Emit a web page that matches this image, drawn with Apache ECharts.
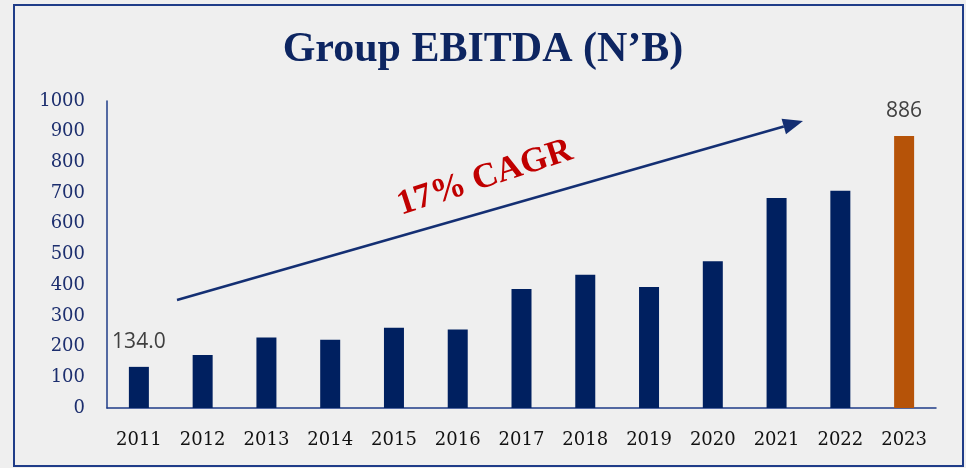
<!DOCTYPE html>
<html>
<head>
<meta charset="utf-8">
<script src="https://cdn.jsdelivr.net/npm/echarts@6/dist/echarts.min.js"></script>
<style>
  html, body { margin: 0; padding: 0; background: #efefef; }
  #chart { width: 966px; height: 468px; }
</style>
</head>
<body>
<div id="chart"></div>
<script>
const years = ['2011', '2012', '2013', '2014', '2015', '2016', '2017', '2018', '2019', '2020', '2021', '2022', '2023'];
const ebitda = [134, 173, 230, 222, 261, 256, 388, 434, 394, 478, 684, 708, 886];
const yTicks = [0, 100, 200, 300, 400, 500, 600, 700, 800, 900, 1000];

const navy = '#002060';
const lastColor = '#B65308';

const chart = echarts.init(document.getElementById('chart'));

// arrow annotation (pixel space)
const arrowFrom = [177, 300];
const arrowTo = [803, 121];
const ang = Math.atan2(arrowTo[1] - arrowFrom[1], arrowTo[0] - arrowFrom[0]);
const headLen = 20, headW = 8;
const back = [arrowTo[0] - headLen * Math.cos(ang), arrowTo[1] - headLen * Math.sin(ang)];
const head = [
  arrowTo,
  [back[0] + headW * Math.sin(ang), back[1] - headW * Math.cos(ang)],
  [back[0] - headW * Math.sin(ang), back[1] + headW * Math.cos(ang)],
];

const lastIdx = ebitda.length - 1;
const barData = ebitda.map((v, i) => {
  const item = { value: v };
  if (i === 0 || i === lastIdx) {
    item.label = {
      show: true,
      formatter: i === 0 ? v.toFixed(1) : String(v),
    };
  }
  if (i === lastIdx) item.itemStyle = { color: lastColor };
  return item;
});

const option = {
  backgroundColor: '#efefef',
  animation: false,
  title: {
    text: 'Group EBITDA (N’B)',
    left: 'center',
    top: 24,
    textStyle: {
      fontFamily: 'Liberation Serif',
      fontWeight: 'bold',
      fontSize: 42,
      color: '#0d2561',
    },
  },
  grid: {
    left: 107,
    right: 30,
    top: 101,
    bottom: 60,
  },
  xAxis: {
    type: 'category',
    data: years,
    axisTick: { show: false },
    axisLine: { lineStyle: { color: '#1f3c88', width: 1.5 } },
    axisLabel: {
      margin: 23,
      color: '#111',
      fontFamily: 'DejaVu Serif',
      fontSize: 18,
    },
  },
  yAxis: {
    type: 'value',
    min: yTicks[0],
    max: yTicks[yTicks.length - 1],
    interval: 100,
    splitLine: { show: false },
    axisLine: { show: true, lineStyle: { color: '#1f3c88', width: 1.5 } },
    axisLabel: {
      margin: 22,
      color: '#1c2e6e',
      fontFamily: 'DejaVu Serif',
      fontSize: 18,
      formatter: (v) => String(v),
    },
  },
  series: [
    {
      type: 'bar',
      data: barData,
      barWidth: 20,
      itemStyle: { color: navy },
      label: {
        position: 'top',
        distance: 14,
        color: '#404040',
        fontFamily: 'Open Sans',
        fontSize: 21,
      },
    },
  ],
  graphic: [
    {
      type: 'rect',
      shape: { x: 14, y: 5, width: 949, height: 461 },
      style: { fill: 'none', stroke: '#1f3c88', lineWidth: 2 },
      silent: true,
    },
    {
      type: 'line',
      shape: { x1: arrowFrom[0], y1: arrowFrom[1], x2: back[0], y2: back[1] },
      style: { stroke: '#142f73', lineWidth: 2.5 },
    },
    {
      type: 'polygon',
      shape: { points: head },
      style: { fill: '#142f73' },
    },
    {
      type: 'text',
      x: 485,
      y: 178,
      rotation: 18 * Math.PI / 180,
      style: {
        text: '17% CAGR',
        fill: '#c00000',
        font: 'bold 35px "Liberation Serif"',
        align: 'center',
        verticalAlign: 'middle',
      },
    },
  ],
};

chart.setOption(option);
</script>
</body>
</html>
